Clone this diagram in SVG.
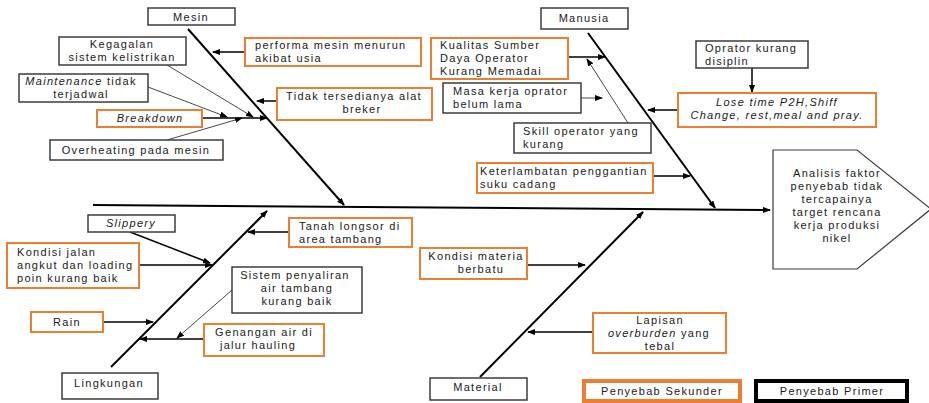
<svg xmlns="http://www.w3.org/2000/svg" width="929" height="403" viewBox="0 0 929 403">
<style>
text{font-family:"Liberation Sans",Arial,sans-serif;font-size:11px;letter-spacing:1.3px;fill:#1a1a1a}
.m{text-anchor:middle}
.i{font-style:italic}
.ob{fill:#fff;stroke:#ED7D31;stroke-width:2}
.bb{fill:#fff;stroke:#3c3c3c;stroke-width:1.5}
.bone{stroke:#000;stroke-width:2;fill:none}
.arr{stroke:#000;stroke-width:1.5;fill:none;marker-end:url(#ah)}
.thin{stroke:#333;stroke-width:0.9;fill:none;marker-end:url(#ah)}
</style>
<defs>
<marker id="ah" markerUnits="userSpaceOnUse" markerWidth="8" markerHeight="6" refX="7" refY="3" orient="auto">
<path d="M0,0 L8,3 L0,6 z" fill="#000"/>
</marker>
<clipPath id="kclip"><rect x="477" y="163" width="175" height="30"/></clipPath>
</defs>
<rect width="929" height="403" fill="#fff"/>

<g id="connectors">
<line class="bone" x1="93" y1="205" x2="770" y2="210" style="marker-end:url(#ah)"/>
<line class="bone" x1="188" y1="29" x2="344" y2="205" style="marker-end:url(#ah)"/>
<line class="bone" x1="588" y1="33" x2="715" y2="208" style="marker-end:url(#ah)"/>
<line class="bone" x1="111" y1="367" x2="267" y2="211" style="marker-end:url(#ah)"/>
<line class="bone" x1="480" y1="377" x2="643" y2="212" style="marker-end:url(#ah)"/>
<line class="thin" x1="167" y1="65" x2="253" y2="117"/>
<line class="thin" x1="148" y1="87" x2="227" y2="117"/>
<line class="thin" x1="167" y1="140" x2="242" y2="118"/>
<line class="arr" x1="202" y1="118" x2="267" y2="118"/>
<line class="arr" x1="245" y1="52" x2="213" y2="52"/>
<line class="arr" x1="277" y1="101" x2="257" y2="101"/>
<line class="arr" x1="568" y1="57" x2="605" y2="57"/>
<line class="thin" x1="581" y1="98" x2="602" y2="98"/>
<line class="thin" x1="628" y1="123" x2="587" y2="59"/>
<line class="arr" x1="653" y1="176" x2="690" y2="176"/>
<line class="arr" x1="752" y1="68" x2="752" y2="92"/>
<line class="arr" x1="678" y1="110" x2="648" y2="110"/>
<line class="arr" x1="130" y1="232" x2="210" y2="263"/>
<line class="arr" x1="139" y1="265" x2="212" y2="265"/>
<line class="arr" x1="289" y1="232" x2="248" y2="232"/>
<line class="thin" x1="232" y1="290" x2="177" y2="338"/>
<line class="arr" x1="103" y1="322" x2="153" y2="322"/>
<line class="arr" x1="204" y1="339" x2="140" y2="339"/>
<line class="arr" x1="527" y1="265" x2="585" y2="265"/>
<line class="arr" x1="593" y1="332" x2="528" y2="332"/>
</g>

<g id="head">
<polygon points="773,150 857,150 931,209 857,269 773,269" fill="#fff" stroke="#3c3c3c" stroke-width="1.2"/>
<text class="m" x="837" y="177">Analisis faktor</text>
<text class="m" x="837" y="190">penyebab tidak</text>
<text class="m" x="837" y="203">tercapainya</text>
<text class="m" x="837" y="216">target rencana</text>
<text class="m" x="837" y="229">kerja produksi</text>
<text class="m" x="837" y="242">nikel</text>
</g>

<g id="mesin">
<rect class="bb" x="148" y="8" width="87" height="17"/>
<text class="m" x="191" y="21">Mesin</text>
</g>
<g id="kegagalan">
<rect class="bb" x="59" y="37" width="127" height="28"/>
<text class="m" x="122" y="48">Kegagalan</text>
<text class="m" x="122" y="61">sistem kelistrikan</text>
</g>
<g id="maintenance">
<rect class="bb" x="19" y="74" width="129" height="28"/>
<text class="m" x="81" y="85"><tspan class="i">Maintenance</tspan> tidak</text>
<text class="m" x="81" y="98">terjadwal</text>
</g>
<g id="breakdown">
<rect class="ob" x="97" y="110" width="105" height="17"/>
<text class="m i" x="150" y="122">Breakdown</text>
</g>
<g id="overheating">
<rect class="bb" x="50" y="140" width="173" height="20"/>
<text class="m" x="136" y="154">Overheating pada mesin</text>
</g>
<g id="performa">
<rect class="ob" x="245" y="38" width="176" height="28"/>
<text x="255" y="49">performa mesin menurun</text>
<text x="255" y="62">akibat usia</text>
</g>
<g id="tidak-tersedia">
<rect class="ob" x="277" y="88" width="155" height="32"/>
<text class="m" x="354" y="100">Tidak tersedianya alat</text>
<text class="m" x="362" y="113">breker</text>
</g>

<g id="manusia">
<rect class="bb" x="541" y="8" width="87" height="21"/>
<text class="m" x="584" y="22">Manusia</text>
</g>
<g id="kualitas">
<rect class="ob" x="431" y="38" width="137" height="41"/>
<text x="440" y="49">Kualitas Sumber</text>
<text x="440" y="62">Daya Operator</text>
<text x="440" y="75">Kurang Memadai</text>
</g>
<g id="masa-kerja">
<rect class="bb" x="443" y="83" width="138" height="30"/>
<text x="453" y="95">Masa kerja oprator</text>
<text x="453" y="108">belum lama</text>
</g>
<g id="skill">
<rect class="bb" x="514" y="123" width="137" height="30"/>
<text x="523" y="135">Skill operator yang</text>
<text x="523" y="148">kurang</text>
</g>
<g id="keterlambatan">
<rect class="ob" x="477" y="163" width="176" height="30"/>
<g clip-path="url(#kclip)">
<text x="480" y="175">Keterlambatan penggantian</text>
<text x="480" y="188">suku cadang</text>
</g>
</g>
<g id="oprator-disiplin">
<rect class="bb" x="696" y="41" width="112" height="27"/>
<text x="705" y="52">Oprator kurang</text>
<text x="705" y="65">disiplin</text>
</g>
<g id="lose-time">
<rect class="ob" x="678" y="93" width="198" height="34"/>
<text class="m i" x="777" y="106">Lose time P2H,Shiff</text>
<text class="m i" x="777" y="119">Change, rest,meal and pray.</text>
</g>

<g id="slippery">
<rect class="bb" x="88" y="215" width="87" height="17"/>
<text class="m i" x="131" y="227">Slippery</text>
</g>
<g id="kondisi-jalan">
<rect class="ob" x="7" y="243" width="132" height="45"/>
<text x="17" y="256">Kondisi jalan</text>
<text x="17" y="269">angkut dan loading</text>
<text x="17" y="282">poin kurang baik</text>
</g>
<g id="tanah-longsor">
<rect class="ob" x="289" y="218" width="123" height="29"/>
<text x="299" y="230">Tanah longsor di</text>
<text x="299" y="243">area tambang</text>
</g>
<g id="sistem-penyaliran">
<rect class="bb" x="232" y="267" width="130" height="46"/>
<text class="m" x="295" y="279">Sistem penyaliran</text>
<text class="m" x="297" y="292">air tambang</text>
<text class="m" x="297" y="305">kurang baik</text>
</g>
<g id="rain">
<rect class="ob" x="31" y="312" width="72" height="20"/>
<text class="m" x="67" y="326">Rain</text>
</g>
<g id="genangan">
<rect class="ob" x="204" y="324" width="120" height="32"/>
<text class="m" x="264" y="336">Genangan air di</text>
<text class="m" x="258" y="349">jalur hauling</text>
</g>
<g id="lingkungan">
<rect class="bb" x="62" y="373" width="96" height="26"/>
<text class="m" x="109" y="387">Lingkungan</text>
</g>

<g id="kondisi-materia">
<rect class="ob" x="420" y="248" width="107" height="31"/>
<text class="m" x="476" y="260">Kondisi materia</text>
<text class="m" x="481" y="273">berbatu</text>
</g>
<g id="lapisan">
<rect class="ob" x="593" y="313" width="133" height="40"/>
<text class="m" x="660" y="324">Lapisan</text>
<text class="m" x="659" y="337"><tspan class="i">overburden</tspan> yang</text>
<text class="m" x="660" y="350">tebal</text>
</g>
<g id="material">
<rect class="bb" x="430" y="378" width="97" height="22"/>
<text class="m" x="478" y="391">Material</text>
</g>

<g id="legend-sekunder">
<rect x="584" y="381" width="156" height="20" fill="#fff" stroke="#ED7D31" stroke-width="4"/>
<text class="m" x="662" y="395">Penyebab Sekunder</text>
</g>
<g id="legend-primer">
<rect x="756" y="381" width="151" height="20" fill="#fff" stroke="#000" stroke-width="4"/>
<text class="m" x="832" y="395">Penyebab Primer</text>
</g>
</svg>
